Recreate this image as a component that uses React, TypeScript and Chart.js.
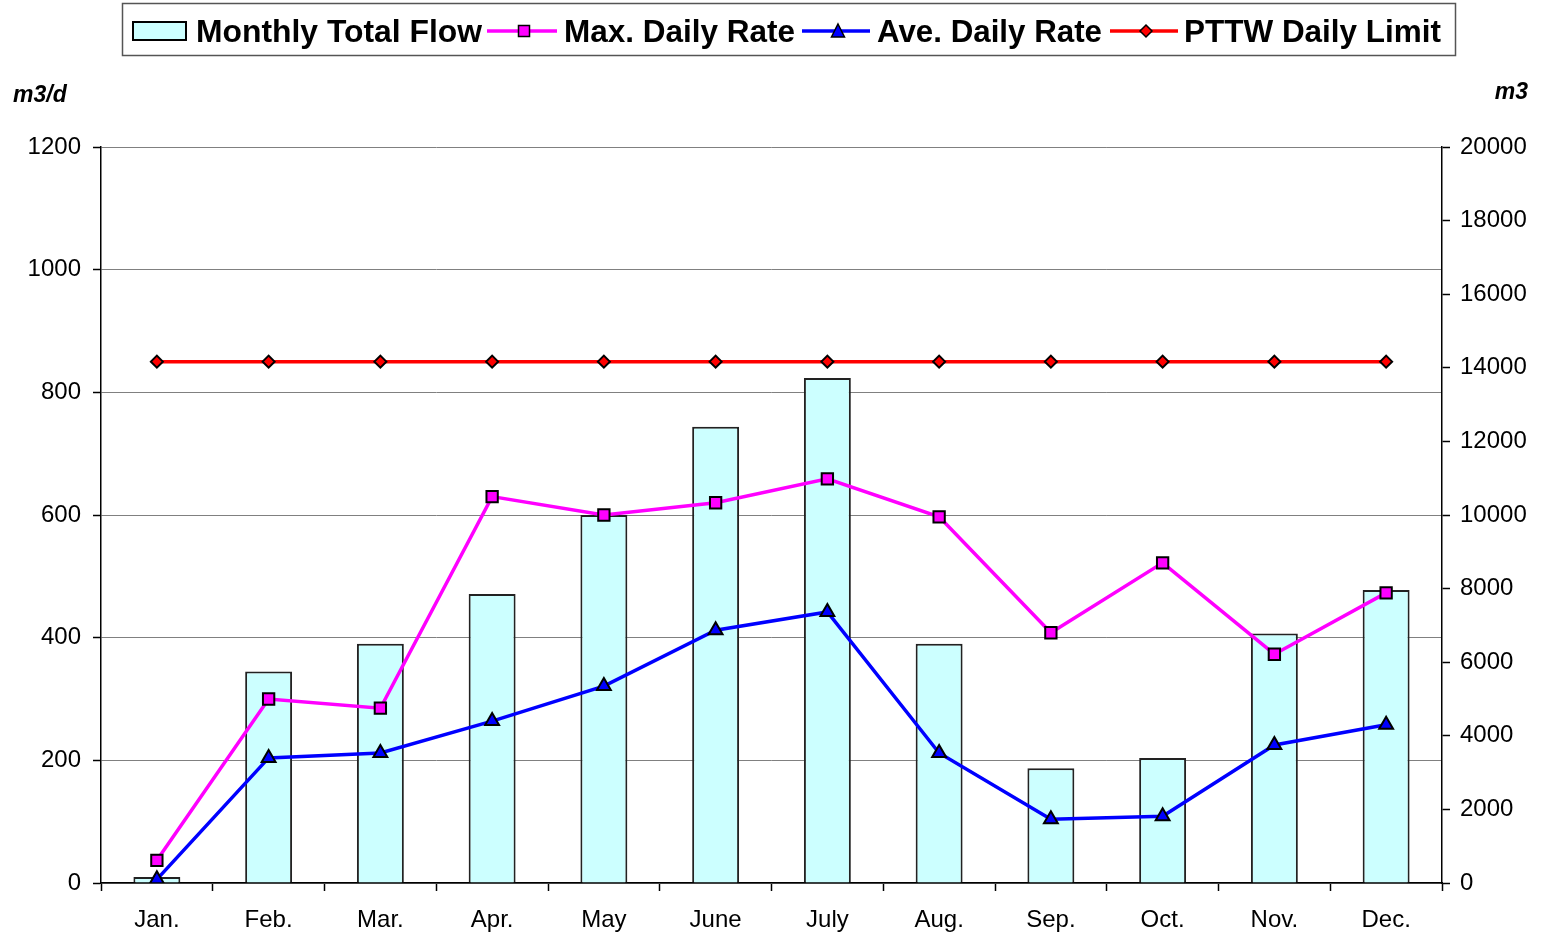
import React, { useEffect, useRef } from 'react';
import { Chart, registerables } from 'chart.js';

Chart.register(...registerables);

const months = ['Jan.', 'Feb.', 'Mar.', 'Apr.', 'May', 'June', 'July', 'Aug.', 'Sep.', 'Oct.', 'Nov.', 'Dec.'];
const monthlyTotalFlow = [160, 5750, 6500, 7850, 10000, 12400, 13720, 6500, 3120, 3400, 6780, 7960];
const maxDailyRate = [37, 300, 285, 630, 600, 620, 659, 597, 408, 522, 373, 473];
const aveDailyRate = [6, 204, 212, 264, 321, 412, 442, 212, 104, 109, 225, 258];
const pttwDailyLimit = [850, 850, 850, 850, 850, 850, 850, 850, 850, 850, 850, 850];
const leftAxis = { min: 0, max: 1200, step: 200, title: 'm3/d' };
const rightAxis = { min: 0, max: 20000, step: 2000, title: 'm3' };
const legendLabels = ['Monthly Total Flow', 'Max. Daily Rate', 'Ave. Daily Rate', 'PTTW Daily Limit'];

const FONT = '"Liberation Sans", Arial, sans-serif';

const overlayPlugin = {
  id: 'overlay',
  beforeDraw(chart: any) {
    const ctx = chart.ctx;
    ctx.save();
    ctx.fillStyle = '#ffffff';
    ctx.fillRect(0, 0, chart.width, chart.height);
    ctx.restore();
  },
  afterDraw(chart: any) {
    const ctx: CanvasRenderingContext2D = chart.ctx;
    ctx.save();
    // legend box
    ctx.strokeStyle = '#555555';
    ctx.lineWidth = 1.5;
    ctx.strokeRect(122.5, 3.5, 1333, 52);

    const baseY = 42;
    const midY = 31;
    ctx.font = `bold 32px ${FONT}`;
    ctx.fillStyle = '#000';
    ctx.textBaseline = 'alphabetic';
    ctx.textAlign = 'left';

    // bar swatch
    ctx.fillStyle = '#CCFFFF';
    ctx.fillRect(133, 22, 53, 18);
    ctx.strokeStyle = '#000';
    ctx.lineWidth = 2;
    ctx.strokeRect(133, 22, 53, 18);
    ctx.fillStyle = '#000';
    ctx.fillText(legendLabels[0], 196, baseY, 286);

    const drawLine = (x1: number, x2: number, color: string) => {
      ctx.strokeStyle = color;
      ctx.lineWidth = 3.5;
      ctx.beginPath();
      ctx.moveTo(x1, midY);
      ctx.lineTo(x2, midY);
      ctx.stroke();
    };
    // max
    drawLine(487, 557, '#FF00FF');
    ctx.fillStyle = '#FF00FF';
    ctx.fillRect(518.5, 25.5, 11, 11);
    ctx.strokeStyle = '#000';
    ctx.lineWidth = 1.5;
    ctx.strokeRect(518.5, 25.5, 11, 11);
    ctx.fillStyle = '#000';
    ctx.fillText(legendLabels[1], 564, baseY, 231);

    // ave
    drawLine(802, 870, '#0000FF');
    ctx.fillStyle = '#0000FF';
    ctx.beginPath();
    ctx.moveTo(838, 24);
    ctx.lineTo(844.5, 37);
    ctx.lineTo(831.5, 37);
    ctx.closePath();
    ctx.fill();
    ctx.strokeStyle = '#000';
    ctx.lineWidth = 1.5;
    ctx.stroke();
    ctx.fillStyle = '#000';
    ctx.fillText(legendLabels[2], 877, baseY, 225);

    // pttw
    drawLine(1110, 1178, '#FF0000');
    ctx.fillStyle = '#FF0000';
    ctx.beginPath();
    ctx.moveTo(1146, 25);
    ctx.lineTo(1152, 31);
    ctx.lineTo(1146, 37);
    ctx.lineTo(1140, 31);
    ctx.closePath();
    ctx.fill();
    ctx.strokeStyle = '#000';
    ctx.lineWidth = 1.5;
    ctx.stroke();
    ctx.fillStyle = '#000';
    ctx.fillText(legendLabels[3], 1184, baseY, 257);

    // axis titles
    ctx.font = `italic bold 23px ${FONT}`;
    ctx.textBaseline = 'middle';
    ctx.textAlign = 'left';
    ctx.fillText(leftAxis.title, 13, 96);
    ctx.textAlign = 'right';
    ctx.fillText(rightAxis.title, 1528, 93);
    ctx.restore();
  },
};

export default function App() {
  const canvasRef = useRef<HTMLCanvasElement>(null);

  useEffect(() => {
    document.body.style.margin = '0';
    const canvas = canvasRef.current;
    if (!canvas) return;
    const tickFont = { family: FONT, size: 24 };
    const plain = (v: any) => String(v);
    const chart = new Chart(canvas, {
      type: 'bar',
      data: {
        labels: months,
        datasets: [
          {
            type: 'bar',
            label: legendLabels[0],
            data: monthlyTotalFlow,
            yAxisID: 'y1',
            backgroundColor: '#CCFFFF',
            borderColor: '#222222',
            borderWidth: 2,
            barPercentage: 0.42,
            categoryPercentage: 1,
            order: 5,
          },
          {
            type: 'line',
            label: legendLabels[1],
            data: maxDailyRate,
            yAxisID: 'y',
            borderColor: '#FF00FF',
            borderWidth: 3.5,
            pointStyle: 'rect',
            pointRadius: 8,
            pointBackgroundColor: '#FF00FF',
            pointBorderColor: '#000',
            pointBorderWidth: 2,
            tension: 0,
            order: 2,
          },
          {
            type: 'line',
            label: legendLabels[2],
            data: aveDailyRate,
            yAxisID: 'y',
            borderColor: '#0000FF',
            borderWidth: 3.5,
            pointStyle: 'triangle',
            pointRadius: 8,
            pointBackgroundColor: '#0000FF',
            pointBorderColor: '#000',
            pointBorderWidth: 2,
            tension: 0,
            order: 1,
          },
          {
            type: 'line',
            label: legendLabels[3],
            data: pttwDailyLimit,
            yAxisID: 'y',
            borderColor: '#FF0000',
            borderWidth: 3.5,
            pointStyle: 'rectRot',
            pointRadius: 6,
            pointBackgroundColor: '#FF0000',
            pointBorderColor: '#000',
            pointBorderWidth: 2,
            tension: 0,
            order: 0,
          },
        ],
      },
      options: {
        responsive: false,
        animation: false,
        devicePixelRatio: 1,
        layout: { padding: { top: 147, left: 0, right: 0, bottom: 0 } },
        plugins: {
          legend: { display: false },
          tooltip: { enabled: false },
        },
        scales: {
          x: {
            offset: true,
            grid: {
              offset: true,
              drawOnChartArea: false,
              drawTicks: true,
              tickLength: 8,
              tickColor: '#000',
              tickWidth: 1.5,
            },
            border: { color: '#000', width: 1.5 },
            ticks: { color: '#000', font: tickFont, padding: 15, maxRotation: 0 },
            afterFit: (axis: any) => { axis.height = 51; },
          },
          y: {
            position: 'left',
            min: leftAxis.min,
            max: leftAxis.max,
            ticks: { stepSize: leftAxis.step, color: '#000', font: tickFont, padding: 12, callback: plain },
            grid: {
              color: '#808080',
              lineWidth: 1,
              tickLength: 8,
              tickColor: '#000',
              tickWidth: 1.5,
            },
            border: { color: '#000', width: 1.5 },
            afterFit: (axis: any) => { axis.width = 101; },
          },
          y1: {
            position: 'right',
            min: rightAxis.min,
            max: rightAxis.max,
            ticks: { stepSize: rightAxis.step, color: '#000', font: tickFont, padding: 10, callback: plain },
            grid: {
              drawOnChartArea: false,
              tickLength: 8,
              tickColor: '#000',
              tickWidth: 1.5,
            },
            border: { color: '#000', width: 1.5 },
            afterFit: (axis: any) => { axis.width = 101; },
          },
        },
      },
      plugins: [overlayPlugin],
    } as any);
    return () => chart.destroy();
  }, []);

  return (
    <div style={{ position: 'absolute', left: 0, top: 0, width: 1543, height: 934 }}>
      <canvas ref={canvasRef} width={1543} height={934} style={{ width: 1543, height: 934, display: 'block' }} />
    </div>
  );
}
